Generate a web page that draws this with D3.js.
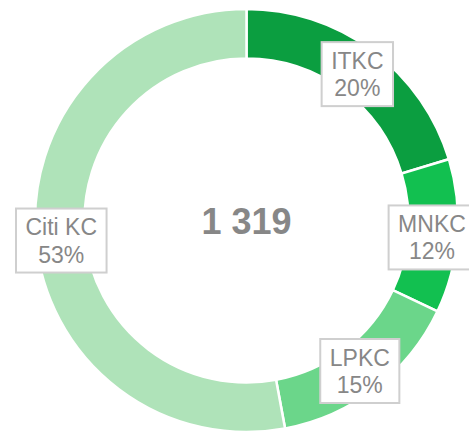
<!DOCTYPE html>
<html><head><meta charset="utf-8">
<script src="https://cdn.jsdelivr.net/npm/d3@7"></script>
<style>html,body{margin:0;padding:0;background:#fff;overflow:hidden}</style>
</head><body>
<svg id="c" width="469" height="434"></svg>
<script>
const categories = ["ITKC", "MNKC", "LPKC", "Citi KC"];
const values = [268, 155, 198, 698];
const percentLabels = ["20%", "12%", "15%", "53%"];
const colors = ["#0b9e40", "#12c050", "#6bd68a", "#afe3b9"];
const totalLabel = "1 319";

const svg = d3.select("#c");
const cx = 246.5, cy = 220.5, rOuter = 211.5, rInner = 162;

const data = categories.map((c, i) => ({name: c, value: values[i], pct: percentLabels[i], color: colors[i]}));
const pie = d3.pie().value(d => d.value).sort(null);
const arcs = pie(data);
const arc = d3.arc().innerRadius(rInner).outerRadius(rOuter);
const labelArc = d3.arc().innerRadius(186).outerRadius(186);

const g = svg.append("g").attr("transform", `translate(${cx},${cy})`);
g.selectAll("path").data(arcs).join("path")
  .attr("d", arc).attr("fill", d => d.data.color)
  .attr("stroke", "#fff").attr("stroke-width", 2.5);

g.append("text").attr("x", 0).attr("y", 13.5).attr("text-anchor", "middle")
  .attr("font-family", "Liberation Sans, Arial, sans-serif").attr("font-weight", "bold")
  .attr("font-size", 36).attr("fill", "#878787").text(totalLabel);

const lab = g.selectAll("g.lab").data(arcs).join("g").attr("class", "lab")
  .attr("transform", d => { const [x, y] = labelArc.centroid(d); return `translate(${x},${y + 3})`; });
lab.each(function(d) {
  const s = d3.select(this);
  const rect = s.append("rect").attr("fill", "#fff").attr("stroke", "#cfcfcf").attr("stroke-width", 2);
  const t = s.append("text").attr("text-anchor", "middle")
    .attr("font-family", "Liberation Sans, Arial, sans-serif").attr("font-size", 23).attr("fill", "#878787");
  t.append("tspan").attr("x", 0).attr("y", -5.5).text(d.data.name);
  t.append("tspan").attr("x", 0).attr("y", 22).text(d.data.pct);
  const bb = t.node().getBBox();
  const w = bb.width + 19, h = 64;
  rect.attr("x", -w / 2).attr("y", -h / 2).attr("width", w).attr("height", h);
});
</script>
</body></html>
